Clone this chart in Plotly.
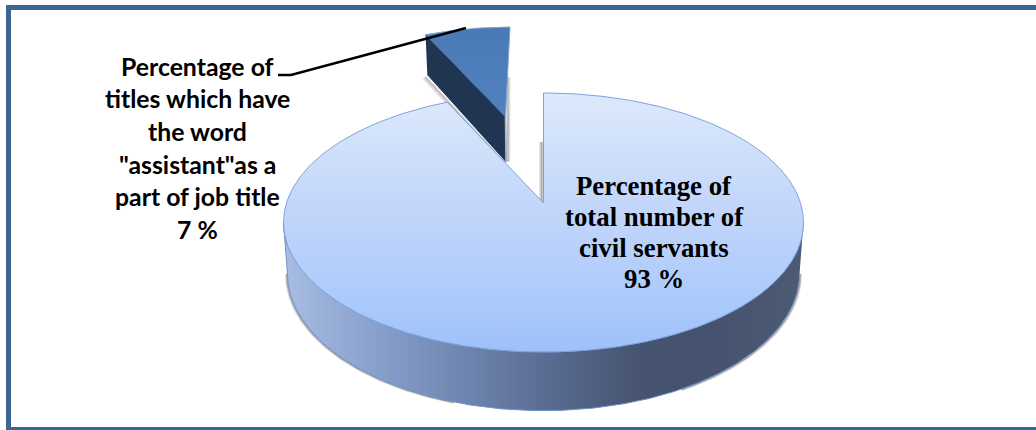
import numpy as np
import plotly.graph_objects as go

# ---- data ----
slice_names = ["Percentage of total number of civil servants", "Percentage of titles with the word assistant"]
slice_values = [93, 7]
main_label_lines = ["Percentage of", "total number of", "civil servants", "93 %"]
small_label_lines = ["Percentage of", "titles which have", "the word", "\"assistant\"as a", "part of job title", "7 %"]

# ---- projection of the tilted pie ----
CX, CY = 543.5, 203.0
AX, BY, P = 257.0, 126.6, 0.1506
DEPTH = 49.8
DU, DV = -0.165, 0.757   # explode offset of the small slice
SU = 0.96                # horizontal narrowing of the exploded slice
BOTTOM_SHRINK = 0.985


def project(theta, du=0.0, dv=0.0, drop=False, su=1.0):
    u = np.sin(theta) * su + du
    v = np.cos(theta) + dv
    w = 1 + P * v
    x = AX * u / w
    y = -BY * v / w
    if drop:
        x = x * BOTTOM_SHRINK
        y = y + DEPTH / w
    return CX + x, CY + y


def project_point(u, v, drop=False):
    w = 1 + P * v
    x, y = AX * u / w, -BY * v / w
    if drop:
        x, y = x * BOTTOM_SHRINK, y + DEPTH / w
    return CX + x, CY + y


total = sum(slice_values)
end_main = 2 * np.pi * slice_values[0] / total

fig = go.Figure()


def poly(x, y, **kw):
    fig.add_trace(go.Scatter(x=list(x), y=list(y), mode="lines", fill="toself",
                             hoverinfo="skip", showlegend=False, **kw))


def stroke(x, y, color, width, opacity=1.0):
    fig.add_trace(go.Scatter(x=list(x), y=list(y), mode="lines", opacity=opacity,
                             line=dict(color=color, width=width),
                             hoverinfo="skip", showlegend=False))


# ---- exploded slice: shadow, cut wall, top ----
ax_s, ay_s = project_point(DU, DV)
ax_b, ay_b = project_point(DU, DV, drop=True)
th_s = np.linspace(end_main, 2 * np.pi, 40)
xs, ys = project(th_s, DU, DV, su=SU)
xe, ye = project(np.array([end_main]), DU, DV, su=SU)
xeb, yeb = project(np.array([end_main]), DU, DV, drop=True, su=SU)
xr, yr = project(np.array([2 * np.pi]), DU, DV, su=SU)

for off, op in ((4.0, 0.12), (3.0, 0.2), (2.0, 0.3)):
    stroke([xeb[0] - off, ax_b - off * 0.3], [yeb[0] + off, ay_b + off], "#555555", 2, op)
    stroke([ax_s + off, ax_s + off], [yr[0] + 50, ay_b], "#555555", 2, op)

poly([xe[0], ax_s, ax_b, xeb[0]], [ye[0], ay_s, ay_b, yeb[0]],
     fillcolor="#1f3552", line=dict(color="#1f3552", width=1))
stroke([ax_s, ax_b], [ay_s, ay_b], "#a9b7c9", 1.5)
poly(list(xs) + [ax_s], list(ys) + [ay_s],
     fillgradient=dict(type="vertical", start=27, stop=117,
                       colorscale=[[0, "#4a7ab6"], [1, "#5082bf"]]),
     line=dict(color="#7fa3d2", width=1))

# ---- main slice: outer wall ----
t0 = np.arccos(-P)
th_w = np.linspace(t0, 2 * np.pi - t0, 240)
xt, yt = project(th_w)
xb, yb = project(th_w, drop=True)

# soft shadow beneath the wall
for a, b in ((3.45, 2 * np.pi - t0), (t0, 2.65)):
    th_sh = np.linspace(a, b, 80)
    xsh, ysh = project(th_sh, drop=True)
    for s, op in ((1.007, 0.12), (1.0045, 0.22), (1.002, 0.4)):
        stroke(CX + (xsh - CX) * s, ysh + (s - 1) * 150, "#555555", 1.5, op)

poly(list(xt) + list(xb[::-1]), list(yt) + list(yb[::-1]),
     fillgradient=dict(type="horizontal", start=284, stop=803,
                       colorscale=[[0, "#a9bde3"], [0.22, "#8199c6"], [0.5, "#5a6d93"],
                                   [0.68, "#465470"], [0.8, "#44526e"], [1, "#4d5a73"]]),
     line=dict(color="#6f93c8", width=1))

# notch shadow on the vertical cut
for off, op in ((3.5, 0.12), (2.5, 0.2), (1.5, 0.32)):
    stroke([CX - off, CX - off], [CY - 61, CY], "#555555", 2, op)

# ---- main slice: top face ----
th_m = np.linspace(0, end_main, 400)
xm, ym = project(th_m)
poly([CX] + list(xm) + [CX], [CY] + list(ym) + [CY],
     fillgradient=dict(type="vertical", start=93, stop=352,
                       colorscale=[[0, "#dde9fc"], [0.42, "#c4d7fa"], [0.8, "#accafb"], [1, "#9ec0fa"]]),
     line=dict(color="#7ea4dc", width=1))

# ---- labels ----
annotations = []
for i, t in enumerate(main_label_lines):
    annotations.append(dict(x=654, y=186 + 31 * i, text=f"<b>{t}</b>", showarrow=False,
                            xanchor="center", yanchor="middle",
                            font=dict(family="Liberation Serif", size=26.8, color="#000000")))
for i, t in enumerate(small_label_lines):
    annotations.append(dict(x=197, y=66 + 32.7 * i, text=f"<b>{t}</b>", showarrow=False,
                            xanchor="center", yanchor="middle",
                            font=dict(family="Lato", size=24.8, color="#000000")))

frame = "#3a6595"
shapes = [
    dict(type="rect", x0=6, x1=1036, y0=5, y1=10, fillcolor=frame, line_width=0, layer="above"),
    dict(type="rect", x0=6, x1=11, y0=5, y1=430, fillcolor=frame, line_width=0, layer="above"),
    dict(type="rect", x0=6, x1=1036, y0=427, y1=430, fillcolor=frame, line_width=0, layer="above"),
    dict(type="path", path="M 278 75 L 291 75 L 466 28", line=dict(color="#000000", width=2.5), layer="above"),
]

fig.update_layout(
    width=1036, height=430, margin=dict(l=0, r=0, t=0, b=0),
    paper_bgcolor="#ffffff", plot_bgcolor="#ffffff", showlegend=False,
    xaxis=dict(range=[0, 1036], visible=False, fixedrange=True),
    yaxis=dict(range=[430, 0], visible=False, fixedrange=True),
    annotations=annotations, shapes=shapes,
)

fig.write_html("out.html", config={"displayModeBar": False},
               post_script="document.body.style.margin='0';document.body.style.overflow='hidden';")
